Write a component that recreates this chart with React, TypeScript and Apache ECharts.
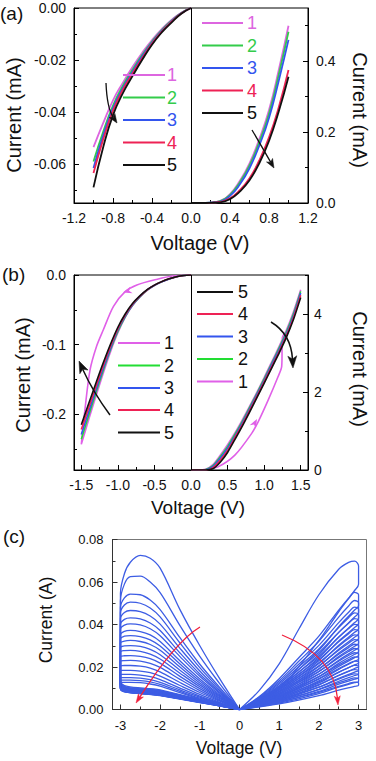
import React, { useEffect, useRef } from 'react';
import * as echarts from 'echarts';

// ---------- Panel (a) ----------
const A_SERIES_NAMES = ['1', '2', '3', '4', '5'];
const A_COLORS = ['#DD66E0', '#33CC4A', '#3355EE', '#EE2255', '#111111'];
const A_V_NEG = [-1.0, -0.9, -0.8, -0.7, -0.6, -0.5, -0.4, -0.3, -0.2, -0.1, 0];
const A_NEG_1 = [-0.0535, -0.0442, -0.0355, -0.0288, -0.0227, -0.0172, -0.0123, -0.0081, -0.0046, -0.0018, 0];
const A_NEG_2 = [-0.059, -0.0475, -0.0375, -0.03, -0.0237, -0.018, -0.0129, -0.0085, -0.0049, -0.0019, 0];
const A_NEG_3 = [-0.0615, -0.049, -0.0385, -0.0308, -0.0245, -0.0186, -0.0133, -0.0088, -0.0051, -0.002, 0];
const A_NEG_4 = [-0.0635, -0.0505, -0.0395, -0.0315, -0.0252, -0.0192, -0.0137, -0.0091, -0.0053, -0.0021, 0];
const A_NEG_5 = [-0.069, -0.0535, -0.0412, -0.0328, -0.0262, -0.0199, -0.0141, -0.0094, -0.0056, -0.0022, 0];
const A_V_POS = [0, 0.1, 0.2, 0.3, 0.4, 0.5, 0.6, 0.7, 0.8, 0.9, 1.0];
const A_POS_1 = [0, 0, 0.001, 0.006, 0.025, 0.062, 0.112, 0.18, 0.262, 0.375, 0.5];
const A_POS_2 = [0, 0, 0.001, 0.005, 0.023, 0.058, 0.106, 0.172, 0.252, 0.362, 0.483];
const A_POS_3 = [0, 0, 0.001, 0.004, 0.02, 0.052, 0.098, 0.162, 0.24, 0.345, 0.46];
const A_POS_4 = [0, 0, 0.0005, 0.003, 0.013, 0.036, 0.07, 0.12, 0.185, 0.27, 0.375];
const A_POS_5 = [0, 0, 0.0005, 0.002, 0.011, 0.032, 0.064, 0.112, 0.175, 0.258, 0.356];
const A_X_TICKS = [-1.2, -0.8, -0.4, 0, 0.4, 0.8, 1.2];
const A_X_MINOR = [-1.0, -0.6, -0.2, 0.2, 0.6, 1.0];
const A_YL_TICKS = [-0.06, -0.04, -0.02, 0];
const A_YL_MINOR = [-0.07, -0.05, -0.03, -0.01];
const A_YR_TICKS = [0, 0.2, 0.4];
const A_YR_MINOR = [0.1, 0.3, 0.5];

// ---------- Panel (b) ----------
const B_COLORS = ['#E060E8', '#22DD33', '#3355EE', '#EE2255', '#111111'];
const B_V_NEG = [-1.5, -1.4, -1.3, -1.2, -1.1, -1.0, -0.9, -0.8, -0.7, -0.6, -0.5, -0.4, -0.3, -0.2, -0.1, 0];
const B_NEG_1 = [-0.243, -0.208, -0.174, -0.141, -0.11, -0.083, -0.061, -0.044, -0.032, -0.022, -0.015, -0.0097, -0.0056, -0.0025, -0.0007, 0];
const B_NEG_2 = [-0.236, -0.202, -0.169, -0.137, -0.107, -0.081, -0.06, -0.0435, -0.0315, -0.0218, -0.0149, -0.0097, -0.0056, -0.0025, -0.0007, 0];
const B_NEG_3 = [-0.229, -0.197, -0.165, -0.134, -0.105, -0.079, -0.059, -0.043, -0.031, -0.0215, -0.0148, -0.0096, -0.0056, -0.0025, -0.0007, 0];
const B_NEG_4 = [-0.222, -0.191, -0.16, -0.13, -0.102, -0.077, -0.0575, -0.042, -0.0305, -0.0212, -0.0146, -0.0095, -0.0055, -0.0025, -0.0007, 0];
const B_NEG_5 = [-0.215, -0.185, -0.155, -0.126, -0.099, -0.075, -0.056, -0.041, -0.03, -0.021, -0.0145, -0.0095, -0.0055, -0.0025, -0.0007, 0];
const B1_LEFT_SWEEP = [[0, 0], [-0.25, -0.0015], [-0.46, -0.006], [-0.74, -0.0143], [-0.9, -0.024], [-1.06, -0.045], [-1.2, -0.079], [-1.29, -0.102], [-1.38, -0.136], [-1.45, -0.193], [-1.5, -0.243]];
const B_V_POS = [0, 0.1, 0.2, 0.3, 0.4, 0.5, 0.6, 0.7, 0.8, 0.9, 1.0, 1.1, 1.2, 1.3, 1.4, 1.5];
const B_POS_1 = [0, 0, 0.02, 0.14, 0.38, 0.65, 0.95, 1.28, 1.63, 1.99, 2.37, 2.76, 3.15, 3.56, 4.05, 4.62];
const B_POS_2 = [0, 0, 0.01, 0.11, 0.34, 0.6, 0.91, 1.24, 1.6, 1.96, 2.34, 2.72, 3.11, 3.52, 4.0, 4.58];
const B_POS_3 = [0, 0, 0.005, 0.09, 0.3, 0.56, 0.87, 1.2, 1.56, 1.93, 2.3, 2.69, 3.07, 3.47, 3.95, 4.54];
const B_POS_4 = [0, 0, 0, 0.06, 0.25, 0.5, 0.83, 1.16, 1.52, 1.89, 2.26, 2.64, 3.02, 3.43, 3.9, 4.48];
const B_POS_5 = [0, 0, 0, 0.03, 0.2, 0.45, 0.78, 1.12, 1.48, 1.85, 2.22, 2.6, 2.98, 3.38, 3.85, 4.42];
const B1_RIGHT_SWEEP = [[0, 0], [0.2, 0.01], [0.37, 0.08], [0.6, 0.38], [0.83, 0.94], [0.92, 1.24], [1.055, 1.79], [1.19, 2.39], [1.24, 2.65], [1.25, 3.4], [1.3, 3.57], [1.4, 4.05], [1.5, 4.62]];
const B_X_TICKS = [-1.5, -1.0, -0.5, 0, 0.5, 1.0, 1.5];
const B_X_MINOR = [-1.25, -0.75, -0.25, 0.25, 0.75, 1.25];
const B_YL_TICKS = [-0.2, -0.1, 0];
const B_YL_MINOR = [-0.25, -0.15, -0.05];
const B_YR_TICKS = [0, 2, 4];
const B_YR_MINOR = [1, 3, 5];

// ---------- Panel (c) ----------
const C_COLOR = '#3D5DE4';
const C_UP_V = [0, 0.5, 1, 1.5, 2, 2.25, 2.5, 2.75, 2.9, 3];
const C_LOW_V = [3, 2, 1, 0];
const C_LEFT_UP = [
  [0, 0.0145, 0.03, 0.047, 0.0665, 0.0712, 0.0725, 0.0693, 0.0639, 0.0546],
  [0, 0.0122, 0.025, 0.0395, 0.055, 0.06, 0.0628, 0.0625, 0.059, 0.051],
  [0, 0.0104, 0.0213, 0.0338, 0.047, 0.0515, 0.054, 0.0543, 0.0525, 0.048],
  [0, 0.0096, 0.0197, 0.0313, 0.0436, 0.0478, 0.05, 0.0505, 0.0492, 0.0455],
  [0, 0.0088, 0.0181, 0.0288, 0.0402, 0.044, 0.0461, 0.0466, 0.0457, 0.0428],
  [0, 0.0081, 0.0167, 0.0266, 0.0372, 0.0407, 0.0426, 0.0431, 0.0424, 0.04],
  [0, 0.0076, 0.0156, 0.0249, 0.0347, 0.038, 0.0398, 0.0403, 0.0397, 0.0378],
  [0, 0.007, 0.0144, 0.0229, 0.032, 0.0351, 0.0367, 0.0372, 0.0368, 0.0352],
  [0, 0.0065, 0.0134, 0.0214, 0.0299, 0.0328, 0.0343, 0.0348, 0.0345, 0.0332],
  [0, 0.0061, 0.0125, 0.02, 0.0279, 0.0306, 0.032, 0.0325, 0.0322, 0.0312],
  [0, 0.0056, 0.0116, 0.0185, 0.0258, 0.0283, 0.0297, 0.0301, 0.0299, 0.0291],
  [0, 0.0052, 0.0107, 0.0171, 0.0238, 0.0261, 0.0274, 0.0278, 0.0277, 0.027],
  [0, 0.0047, 0.0098, 0.0156, 0.0218, 0.0239, 0.025, 0.0254, 0.0253, 0.0248],
  [0, 0.0043, 0.0089, 0.0142, 0.0198, 0.0217, 0.0228, 0.0231, 0.023, 0.0227],
  [0, 0.0039, 0.008, 0.0127, 0.0177, 0.0195, 0.0204, 0.0207, 0.0207, 0.0204],
  [0, 0.0034, 0.0071, 0.0113, 0.0157, 0.0173, 0.0181, 0.0184, 0.0184, 0.0182],
  [0, 0.0031, 0.0063, 0.0101, 0.0141, 0.0155, 0.0162, 0.0165, 0.0165, 0.0164],
  [0, 0.0028, 0.0058, 0.0092, 0.0128, 0.0141, 0.0148, 0.015, 0.015, 0.0149],
  [0, 0.0026, 0.0053, 0.0085, 0.0118, 0.013, 0.0136, 0.0138, 0.0138, 0.0137],
  [0, 0.0024, 0.0049, 0.0079, 0.011, 0.012, 0.0126, 0.0128, 0.0128, 0.0127],
];
const C_LEFT_LOW = [
  [0.0115, 0.0078, 0.004, 0], [0.012, 0.0082, 0.0042, 0], [0.0125, 0.0086, 0.0044, 0], [0.013, 0.0089, 0.0046, 0],
  [0.0135, 0.0092, 0.0047, 0], [0.0128, 0.0088, 0.0045, 0], [0.0122, 0.0084, 0.0043, 0], [0.0118, 0.008, 0.0041, 0],
  [0.0112, 0.0077, 0.0039, 0], [0.0108, 0.0074, 0.0038, 0], [0.0105, 0.0072, 0.0037, 0], [0.011, 0.0075, 0.0038, 0],
  [0.0102, 0.007, 0.0036, 0], [0.01, 0.0068, 0.0035, 0], [0.0106, 0.0072, 0.0037, 0], [0.0098, 0.0067, 0.0034, 0],
  [0.0104, 0.0071, 0.0036, 0], [0.01, 0.0068, 0.0035, 0], [0.0097, 0.0066, 0.0034, 0], [0.0096, 0.0065, 0.0033, 0],
];
const C_R_UP_V = [0, 0.5, 1, 1.5, 2, 2.5, 2.75, 2.9, 3];
const C_R_LOW_V = [3, 2.9, 2.5, 2, 1, 0];
const C_RIGHT_UP = [
  [0, 0.009, 0.0215, 0.038, 0.054, 0.066, 0.0692, 0.0698, 0.0675],
  [0, 0.0061, 0.0145, 0.0245, 0.0345, 0.0468, 0.0524, 0.0551, 0.054],
  [0, 0.0057, 0.0135, 0.0228, 0.0321, 0.0435, 0.0487, 0.0513, 0.0502],
  [0, 0.0054, 0.0127, 0.0214, 0.0302, 0.0409, 0.0458, 0.0482, 0.0472],
  [0, 0.0051, 0.012, 0.0202, 0.0285, 0.0386, 0.0432, 0.0455, 0.0446],
  [0, 0.0048, 0.0112, 0.019, 0.0268, 0.0363, 0.0406, 0.0428, 0.0419],
  [0, 0.0045, 0.0105, 0.0178, 0.0251, 0.034, 0.0381, 0.0401, 0.0393],
  [0, 0.0042, 0.0099, 0.0167, 0.0236, 0.0319, 0.0357, 0.0376, 0.0369],
  [0, 0.0039, 0.0092, 0.0156, 0.022, 0.0298, 0.0334, 0.0351, 0.0344],
  [0, 0.0037, 0.0086, 0.0146, 0.0206, 0.0279, 0.0312, 0.0329, 0.0322],
  [0, 0.0034, 0.0081, 0.0136, 0.0192, 0.026, 0.0291, 0.0307, 0.0301],
  [0, 0.0032, 0.0075, 0.0128, 0.018, 0.0244, 0.0273, 0.0287, 0.0281],
  [0, 0.003, 0.007, 0.0119, 0.0167, 0.0227, 0.0254, 0.0267, 0.0262],
  [0, 0.0028, 0.0065, 0.011, 0.0155, 0.021, 0.0235, 0.0248, 0.0243],
  [0, 0.0025, 0.006, 0.0101, 0.0143, 0.0193, 0.0216, 0.0228, 0.0223],
  [0, 0.0023, 0.0055, 0.0092, 0.013, 0.0176, 0.0197, 0.0208, 0.0204],
  [0, 0.0021, 0.0049, 0.0084, 0.0118, 0.016, 0.0179, 0.0188, 0.0184],
  [0, 0.0019, 0.0044, 0.0075, 0.0105, 0.0143, 0.016, 0.0168, 0.0165],
  [0, 0.0017, 0.0039, 0.0066, 0.0093, 0.0126, 0.0141, 0.0149, 0.0146],
  [0, 0.0014, 0.0034, 0.0057, 0.0081, 0.0109, 0.0122, 0.0129, 0.0126],
];
const C_RIGHT_LOW = [
  [0.059, 0.056, 0.046, 0.0325, 0.01, 0],
  [0.049, 0.0468, 0.039, 0.0279, 0.0111, 0],
  [0.0456, 0.0435, 0.0363, 0.0259, 0.0104, 0],
  [0.0429, 0.0409, 0.0341, 0.0244, 0.0097, 0],
  [0.0405, 0.0386, 0.0322, 0.023, 0.0092, 0],
  [0.038, 0.0363, 0.0302, 0.0216, 0.0086, 0],
  [0.0356, 0.034, 0.0284, 0.0203, 0.0081, 0],
  [0.0334, 0.0319, 0.0266, 0.019, 0.0076, 0],
  [0.0312, 0.0298, 0.0249, 0.0178, 0.0071, 0],
  [0.0292, 0.0279, 0.0232, 0.0166, 0.0066, 0],
  [0.0273, 0.026, 0.0217, 0.0155, 0.0062, 0],
  [0.0255, 0.0244, 0.0203, 0.0145, 0.0058, 0],
  [0.0238, 0.0227, 0.0189, 0.0135, 0.0054, 0],
  [0.022, 0.021, 0.0175, 0.0125, 0.005, 0],
  [0.0202, 0.0193, 0.0161, 0.0115, 0.0046, 0],
  [0.0185, 0.0176, 0.0147, 0.0105, 0.0042, 0],
  [0.0167, 0.016, 0.0133, 0.0095, 0.0038, 0],
  [0.015, 0.0143, 0.0119, 0.0085, 0.0034, 0],
  [0.0132, 0.0126, 0.0105, 0.0075, 0.003, 0],
  [0.0114, 0.0109, 0.0091, 0.0065, 0.0026, 0],
];
const C_X_TICKS = [-3, -2, -1, 0, 1, 2, 3];
const C_X_MINOR = [-2.5, -1.5, -0.5, 0.5, 1.5, 2.5];
const C_Y_TICKS = [0, 0.02, 0.04, 0.06, 0.08];
const C_Y_MINOR = [0.01, 0.03, 0.05, 0.07];

const FONT = "Arial, 'Liberation Sans', Helvetica, sans-serif";

const zip = (xs: number[], ys: number[]) => xs.map((x, i) => [x, ys[i]]);

function xMajor(grid: number, min: number, max: number, vals: number[], fmt: (v: number) => string, margin: number, fs: number, color: string) {
  return {
    type: 'value', gridIndex: grid, min, max, position: 'bottom',
    axisLine: { show: true, onZero: false, lineStyle: { color, width: 1 } },
    axisTick: { show: true, inside: true, length: 5, customValues: vals, lineStyle: { color } },
    axisLabel: { show: true, customValues: vals, formatter: fmt, margin, fontSize: fs, color: '#111', fontFamily: FONT },
    splitLine: { show: false },
  };
}
function xMinor(grid: number, min: number, max: number, vals: number[], color: string) {
  return {
    type: 'value', gridIndex: grid, min, max, position: 'bottom',
    axisLine: { show: false, onZero: false },
    axisTick: { show: true, inside: true, length: 3, customValues: vals, lineStyle: { color } },
    axisLabel: { show: false },
    splitLine: { show: false },
  };
}
function yMajor(grid: number, pos: string, min: number, max: number, vals: number[], fmt: (v: number) => string, margin: number, fs: number, color: string) {
  return {
    type: 'value', gridIndex: grid, min, max, position: pos,
    axisLine: { show: true, onZero: false, lineStyle: { color, width: 1 } },
    axisTick: { show: true, inside: true, length: 5, customValues: vals, lineStyle: { color } },
    axisLabel: { show: true, customValues: vals, formatter: fmt, margin, fontSize: fs, color: '#111', fontFamily: FONT },
    splitLine: { show: false },
  };
}
function yMinor(grid: number, pos: string, min: number, max: number, vals: number[], color: string) {
  return {
    type: 'value', gridIndex: grid, min, max, position: pos,
    axisLine: { show: false, onZero: false },
    axisTick: { show: true, inside: true, length: 3, customValues: vals, lineStyle: { color } },
    axisLabel: { show: false },
    splitLine: { show: false },
  };
}

function line(name: string, data: number[][], color: string, xi: number, yi: number, width: number, smooth: number | boolean, extra: any = {}) {
  return {
    type: 'line', name, data, xAxisIndex: xi, yAxisIndex: yi,
    showSymbol: false, symbol: 'none', smooth,
    lineStyle: { color, width }, itemStyle: { color },
    animation: false, silent: true, z: 3, ...extra,
  };
}

const centerLine = {
  silent: true, symbol: ['none', 'none'], label: { show: false },
  lineStyle: { color: '#000', width: 1, type: 'solid' },
  data: [{ xAxis: 0 }], animation: false,
};

function arrow(p0: number[], c: number[], p2: number[], color: string, w: number, hl: number, hw: number, notch = 0.25) {
  const dx = p2[0] - c[0], dy = p2[1] - c[1];
  const L = Math.hypot(dx, dy);
  const ux = dx / L, uy = dy / L;
  const bx = p2[0] - ux * hl, by = p2[1] - uy * hl;
  const nx = p2[0] - ux * hl * (1 - notch), ny = p2[1] - uy * hl * (1 - notch);
  return [
    { type: 'bezierCurve', z: 20, shape: { x1: p0[0], y1: p0[1], cpx1: c[0], cpy1: c[1], x2: nx, y2: ny }, style: { stroke: color, lineWidth: w, fill: null } },
    { type: 'polygon', z: 21, shape: { points: [[p2[0], p2[1]], [bx - uy * hw, by + ux * hw], [nx, ny], [bx + uy * hw, by - ux * hw]] }, style: { fill: color, stroke: color, lineWidth: 0.5 } },
  ];
}

function headOnly(from: number[], tip: number[], color: string, hl: number, hw: number) {
  const dx = tip[0] - from[0], dy = tip[1] - from[1];
  const L = Math.hypot(dx, dy);
  const ux = dx / L, uy = dy / L;
  const bx = tip[0] - ux * hl, by = tip[1] - uy * hl;
  const nx = tip[0] - ux * hl * 0.7, ny = tip[1] - uy * hl * 0.7;
  return { type: 'polygon', z: 21, shape: { points: [[tip[0], tip[1]], [bx - uy * hw, by + ux * hw], [nx, ny], [bx + uy * hw, by - ux * hw]] }, style: { fill: color } };
}

function txt(text: string, x: number, y: number, size: number, color = '#111', rotation = 0, align = 'center') {
  return { type: 'text', x, y, rotation, z: 30, style: { text, fill: color, fontSize: size, fontFamily: FONT, textAlign: align, textVerticalAlign: 'middle' } };
}
function legLine(x1: number, x2: number, y: number, color: string) {
  return { type: 'line', z: 25, shape: { x1, y1: y, x2, y2: y }, style: { stroke: color, lineWidth: 2 } };
}

export default function App() {
  const ref = useRef<HTMLDivElement>(null);
  useEffect(() => {
    if (!ref.current) return;
    const chart = echarts.init(ref.current, undefined, { renderer: 'svg' });

    const aNeg = [A_NEG_1, A_NEG_2, A_NEG_3, A_NEG_4, A_NEG_5];
    const aPos = [A_POS_1, A_POS_2, A_POS_3, A_POS_4, A_POS_5];
    const bNeg = [B_NEG_1, B_NEG_2, B_NEG_3, B_NEG_4, B_NEG_5];
    const bPos = [B_POS_1, B_POS_2, B_POS_3, B_POS_4, B_POS_5];

    const series: any[] = [];
    // (a)
    aNeg.forEach((ys, i) => {
      series.push(line(A_SERIES_NAMES[i], zip(A_V_NEG, ys), A_COLORS[i], 0, 0, 1.8, true, i === 0 ? { markLine: centerLine } : {}));
    });
    aPos.forEach((ys, i) => {
      series.push(line(A_SERIES_NAMES[i], zip(A_V_POS, ys), A_COLORS[i], 0, 2, 1.8, true));
    });
    // (b)
    bNeg.forEach((ys, i) => {
      const d = i === 0
        ? [...B1_LEFT_SWEEP, ...zip(B_V_NEG, ys)]
        : zip(B_V_NEG, ys);
      series.push(line(A_SERIES_NAMES[i], d, B_COLORS[i], 2, 4, 1.6, 0.3, i === 0 ? { markLine: centerLine } : {}));
    });
    bPos.forEach((ys, i) => {
      const band = zip(B_V_POS, ys).reverse();
      const d = i === 0 ? [...B1_RIGHT_SWEEP, ...band] : band;
      series.push(line(A_SERIES_NAMES[i], d, B_COLORS[i], 2, 6, 1.6, 0.25));
    });
    // (c)
    C_LEFT_UP.forEach((up, k) => {
      const d = [
        ...C_UP_V.map((v, i) => [-v, up[i]]),
        ...C_LOW_V.map((v, i) => [-v, C_LEFT_LOW[k][i]]),
      ];
      series.push(line('L' + (k + 1), d, C_COLOR, 4, 8, 1.3, 0.35));
    });
    C_RIGHT_UP.forEach((up, k) => {
      const d = [
        ...C_R_UP_V.map((v, i) => [v, up[i]]),
        ...C_R_LOW_V.map((v, i) => [v, C_RIGHT_LOW[k][i]]),
      ];
      series.push(line('R' + (k + 1), d, C_COLOR, 4, 8, 1.3, 0.35));
    });

    const f1 = (v: number) => v.toFixed(1);
    const f2 = (v: number) => v.toFixed(2);
    const f0 = (v: number) => String(v);

    const graphic: any[] = [];
    // panel letters
    graphic.push(txt('(a)', 0, 13, 19, '#111', 0, 'left'));
    graphic.push(txt('(b)', 2, 274, 19, '#111', 0, 'left'));
    graphic.push(txt('(c)', 3, 536, 19, '#111', 0, 'left'));
    // titles
    graphic.push(txt('Current (mA)', 14, 115, 20, '#111', Math.PI / 2));
    graphic.push(txt('Current (mA)', 360, 110, 20, '#111', -Math.PI / 2));
    graphic.push(txt('Voltage (V)', 200, 243, 20));
    graphic.push(txt('Current (mA)', 23, 375, 20, '#111', Math.PI / 2));
    graphic.push(txt('Current (mA)', 360, 369, 20, '#111', -Math.PI / 2));
    graphic.push(txt('Voltage (V)', 198, 507, 19));
    graphic.push(txt('Current (A)', 46, 620, 17.5, '#111', Math.PI / 2));
    graphic.push(txt('Voltage (V)', 239, 748, 17.5));
    // legends (a)
    const aLeftY = [75, 97.5, 120, 142.5, 165];
    const aRightY = [23, 45.5, 68, 90.5, 113];
    A_SERIES_NAMES.forEach((n, i) => {
      graphic.push(legLine(123, 165, aLeftY[i], A_COLORS[i]));
      graphic.push(txt(n, 167, aLeftY[i], 18, A_COLORS[i], 0, 'left'));
      graphic.push(legLine(202, 243, aRightY[i], A_COLORS[i]));
      graphic.push(txt(n, 247, aRightY[i], 18, A_COLORS[i], 0, 'left'));
    });
    // legends (b)
    const bLeftY = [343, 365.5, 388, 410, 432.5];
    const bRightY = [381.5, 359, 336.5, 314, 292];
    A_SERIES_NAMES.forEach((n, i) => {
      graphic.push(legLine(118, 160, bLeftY[i], B_COLORS[i]));
      graphic.push(txt(n, 164, bLeftY[i], 18, '#111', 0, 'left'));
      graphic.push(legLine(197, 233, bRightY[i], B_COLORS[i]));
      graphic.push(txt(n, 238, bRightY[i], 18, '#111', 0, 'left'));
    });
    // arrows (a)
    graphic.push(...arrow([106, 83], [107, 108], [117, 123], '#111', 1.3, 9, 3.5));
    graphic.push(...arrow([252, 130], [262, 147], [274, 168], '#111', 1.3, 9, 3.5));
    // arrows (b)
    graphic.push(...arrow([110, 415], [93, 392], [79, 361], '#111', 1.5, 12, 4.5));
    graphic.push(...arrow([271, 322], [291, 334], [293, 368], '#111', 1.5, 12, 4.5));
    graphic.push(headOnly([136, 288.5], [123, 292.5], B_COLORS[0], 9, 3.5));
    graphic.push(headOnly([250, 432], [257, 419], B_COLORS[0], 9, 3.5));
    // arrows (c)
    graphic.push(...arrow([200, 627], [175, 642], [136, 703], '#F0203C', 1.3, 9, 3));
    graphic.push(...arrow([282, 635], [334, 656], [338, 705], '#F0203C', 1.3, 9, 3));

    const option: any = {
      animation: false,
      backgroundColor: '#ffffff',
      textStyle: { fontFamily: FONT },
      grid: [
        { left: 74, top: 8, width: 234, height: 195, show: true, borderColor: '#000', borderWidth: 1, backgroundColor: 'rgba(0,0,0,0)', containLabel: false },
        { left: 74, top: 275, width: 234, height: 195, show: true, borderColor: '#000', borderWidth: 1, backgroundColor: 'rgba(0,0,0,0)', containLabel: false },
        { left: 112.5, top: 539.5, width: 254, height: 170, show: true, borderColor: '#777', borderWidth: 1, backgroundColor: 'rgba(0,0,0,0)', containLabel: false },
      ],
      xAxis: [
        xMajor(0, -1.2, 1.2, A_X_TICKS, f1, 8, 14, '#000'),
        xMinor(0, -1.2, 1.2, A_X_MINOR, '#000'),
        xMajor(1, -1.6, 1.6, B_X_TICKS, f1, 8, 14, '#000'),
        xMinor(1, -1.6, 1.6, B_X_MINOR, '#000'),
        xMajor(2, -3.2, 3.2, C_X_TICKS, f0, 9, 13, '#333'),
        xMinor(2, -3.2, 3.2, C_X_MINOR, '#333'),
      ],
      yAxis: [
        yMajor(0, 'left', -0.075, 0, A_YL_TICKS, f2, 8, 14, '#000'),
        yMinor(0, 'left', -0.075, 0, A_YL_MINOR, '#000'),
        yMajor(0, 'right', 0, 0.55, A_YR_TICKS, f1, 8, 14, '#000'),
        yMinor(0, 'right', 0, 0.55, A_YR_MINOR, '#000'),
        yMajor(1, 'left', -0.28, 0, B_YL_TICKS, f1, 8, 14, '#000'),
        yMinor(1, 'left', -0.28, 0, B_YL_MINOR, '#000'),
        yMajor(1, 'right', 0, 5, B_YR_TICKS, f0, 6, 14, '#000'),
        yMinor(1, 'right', 0, 5, B_YR_MINOR, '#000'),
        yMajor(2, 'left', 0, 0.08, C_Y_TICKS, f2, 9, 13, '#333'),
        yMinor(2, 'left', 0, 0.08, C_Y_MINOR, '#333'),
      ],
      series,
      graphic,
    };
    chart.setOption(option);
    return () => chart.dispose();
  }, []);

  return (
    <div style={{ position: 'absolute', left: 0, top: 0, width: 376, height: 761, background: '#fff' }}>
      <div ref={ref} style={{ width: 376, height: 761 }} />
    </div>
  );
}
